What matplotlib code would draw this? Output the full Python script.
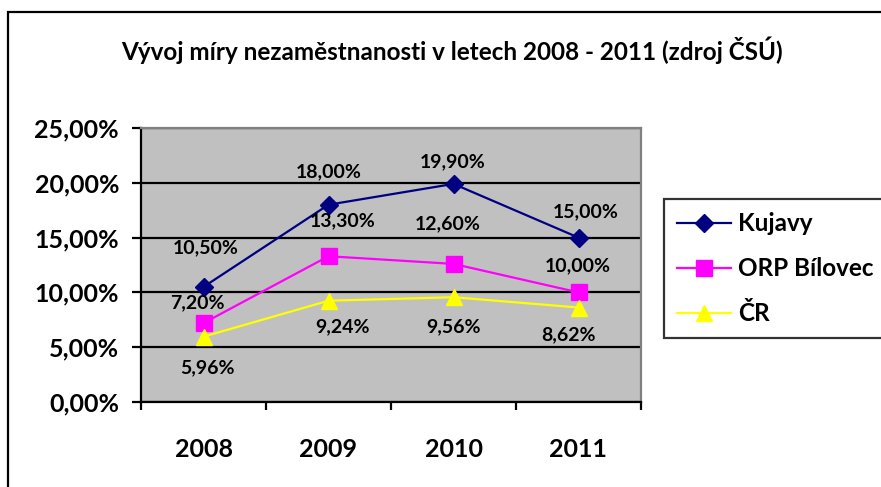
import matplotlib
matplotlib.use("Agg")
import matplotlib.pyplot as plt
from matplotlib.patches import Rectangle
from matplotlib.ticker import FixedLocator, FuncFormatter

years = ["2008", "2009", "2010", "2011"]
kujavy = [10.50, 18.00, 19.90, 15.00]
orp = [7.20, 13.30, 12.60, 10.00]
cr = [5.96, 9.24, 9.56, 8.62]
series_names = ["Kujavy", "ORP Bílovec", "ČR"]
title = "Vývoj míry nezaměstnanosti v letech 2008 - 2011 (zdroj ČSÚ)"

FONT = "Lato"
plt.rcParams["font.family"] = [FONT, "DejaVu Sans"]
plt.rcParams["font.weight"] = "bold"

W, H = 881, 487
fig = plt.figure(figsize=(W / 100, H / 100), dpi=100)
fig.patch.set_facecolor("white")

def px(v):
    return v * 0.72

# outer border
fig.patches.append(Rectangle((8 / W, 0 - 0.05), 1.1, 1 - 12 / H + 0.05,
                             transform=fig.transFigure, fill=False,
                             edgecolor="black", linewidth=1.6))

L, R, T, B = 141, 641, 128, 402
ax = fig.add_axes([L / W, 1 - B / H, (R - L) / W, (B - T) / H])
ax.set_facecolor("#C0C0C0")

x = list(range(len(years)))
styles = [
    (kujavy, "#000080", "D", 9, "#000080"),
    (orp, "#FF00FF", "s", 11, "#FF00FF"),
    (cr, "#FFFF00", "^", 11, "#FFFF00"),
]
offsets = [
    [(2, -39), (0, -33), (-1, -22), (7, -26)],
    [(-6, -20), (14, -35), (-6, -40), (-1, -27)],
    [(4, 31), (14, 26), (0, 29.5), (-10, 27.5)],
]
for (vals, col, mk, ms, mfc), name, offs in zip(styles, series_names, offsets):
    ax.plot(x, vals, color=col, marker=mk, markersize=ms, markerfacecolor=mfc,
            markeredgecolor=col, linewidth=1.6, label=name, zorder=3)
    for xi, v, (dx, dy) in zip(x, vals, offs):
        ax.annotate(f"{v:.2f}%".replace(".", ","), (xi, v),
                    xytext=(px(dx), -px(dy)), textcoords="offset points",
                    ha="center", va="center", fontsize=14, fontweight="bold",
                    zorder=4)

ax.set_xlim(-0.5, 3.5)
ax.set_ylim(0, 25)
ax.yaxis.set_major_locator(FixedLocator([0, 5, 10, 15, 20, 25]))
ax.yaxis.set_major_formatter(FuncFormatter(lambda v, p: f"{v:.2f}%".replace(".", ",")))
ax.grid(axis="y", color="black", linewidth=1.6, zorder=1)
ax.set_axisbelow(True)

ax.set_xticks(x)
ax.set_xticklabels(years)
ax.xaxis.set_minor_locator(FixedLocator([-0.5, 0.5, 1.5, 2.5, 3.5]))
ax.tick_params(axis="x", which="major", length=0, pad=px(36), labelsize=18)
ax.tick_params(axis="x", which="minor", length=px(8), width=1.6, direction="out")
ax.tick_params(axis="y", which="major", length=px(9), width=1.6, pad=px(13),
               labelsize=18)
for lab in ax.get_xticklabels() + ax.get_yticklabels():
    lab.set_fontweight("bold")

for s in ["left", "bottom"]:
    ax.spines[s].set_color("black")
    ax.spines[s].set_linewidth(1.6)
for s in ["top", "right"]:
    ax.spines[s].set_color("#808080")
    ax.spines[s].set_linewidth(1.6)

fig.text(451.5 / W, 1 - 50 / H, title, ha="center", va="center",
         fontsize=17.5, fontweight="bold")

leg = fig.legend(loc="upper left", bbox_to_anchor=(664 / W, 1 - 199 / H),
                 frameon=True, fancybox=False, fontsize=17.5, handlelength=2.2,
                 handletextpad=0.3, borderpad=0.55, labelspacing=0.9,
                 borderaxespad=0)
leg.get_frame().set_edgecolor("black")
leg.get_frame().set_linewidth(1.6)
for t in leg.get_texts():
    t.set_fontweight("bold")

fig.savefig("out.png", dpi=100)
